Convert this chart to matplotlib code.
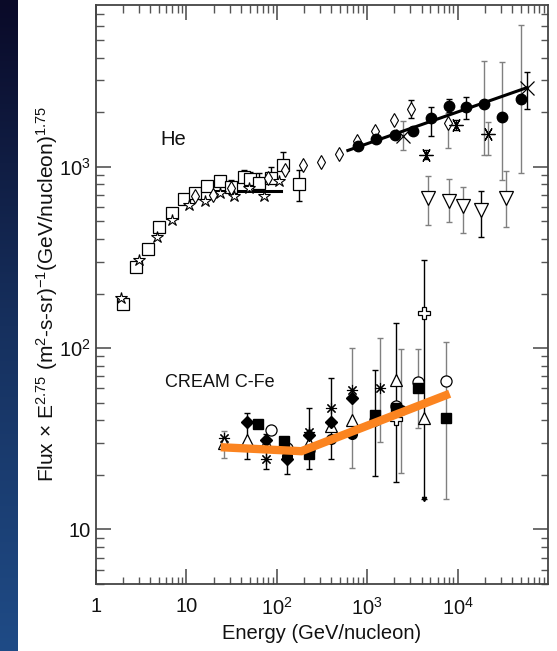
import numpy as np
import matplotlib
matplotlib.use('Agg')
import matplotlib.pyplot as plt
from matplotlib.ticker import LogLocator, FixedLocator, FixedFormatter, NullFormatter
from matplotlib.colors import LinearSegmentedColormap

plt.rcParams['font.family'] = ['Liberation Sans', 'DejaVu Sans']
plt.rcParams['mathtext.default'] = 'regular'

# ---------------- He data ----------------
he_sq_x = [2.0, 2.77, 3.72, 5.0, 6.86, 9.46, 12.5, 17.0, 23.4, 31.3, 43.2, 50, 63.8, 87, 117, 175]
he_sq_y = [176, 279, 353, 467, 556, 664, 717, 779, 830, 769, 877, 855, 813, 866, 1017, 806]

he_star_x = [1.87, 3.0, 4.68, 7.0, 10.6, 16.0, 23.4, 33.6, 49.4, 71.9, 106]
he_star_y = [188, 305, 410, 510, 618, 650, 717, 692, 763, 686, 830]

he_diam_x = [12.4, 19.7, 31, 80, 122, 195, 305, 488, 771, 1230, 1963, 3075, 7830]
he_diam_y = [686, 701, 760, 866, 962, 1026, 1061, 1179, 1379, 1566, 1815, 2080, 1754]

he_circ_x = [792, 1262, 2014, 3206, 5036, 7960, 12480, 19540, 31150, 49700]
he_circ_y = [1294, 1426, 1500, 1566, 1855, 2166, 2132, 2224, 1892, 2370]

he_x_x = [2490, 58300]
he_x_y = [1482, 2717]

he_ast_x = [4425, 9510, 21600]
he_ast_y = [1164, 1703, 1514]

he_tri_x = [4700, 8020, 11450, 18250, 34400]
he_tri_y = [673, 650, 604, 574, 673]

he_err_x = [117, 175, 43.2, 50, 63.8, 87, 23.4, 31.3, 3075, 7830, 5036, 7960, 12480,
            19540, 31150, 49700, 2490, 21600, 58300, 4425, 9510,
            4700, 8020, 11450, 18250, 34400]
he_err_lo = [1017, 644, 877, 855, 813, 866, 830, 769, 1860, 1268, 1480, 2000, 1835,
             1165, 848, 923, 1240, 1164, 2078, 1100, 1600,
             479, 493, 431, 410, 466]
he_err_hi = [1199, 963, 963, 935, 923, 991, 884, 848, 2335, 1975, 2149, 2360, 2438,
             3850, 3802, 6060, 1778, 1757, 3311, 1230, 1800,
             884, 855, 769, 738, 951]
he_err_black = [1, 1, 1, 1, 1, 1, 1, 1, 1, 0, 1, 1, 1,
                0, 0, 0, 0, 0, 1, 1, 1,
                0, 0, 0, 1, 0]

he_fit_lo_x = [20.6, 110]
he_fit_lo_y = [731, 731]
he_fit_hi_x = [611, 58900]
he_fit_hi_y = [1230, 2734]

# ---------------- CREAM C-Fe data ----------------
cr_ast_x = [25.9, 75, 228, 401, 685, 1400]
cr_ast_y = [32, 24.5, 34.4, 46.8, 58.5, 60.4]

cr_diam_x = [47, 75, 130, 228, 401, 685]
cr_diam_y = [39.0, 31.3, 24.3, 33, 39.2, 53.2]

cr_tri_x = [25.9, 47, 75, 228, 401, 685, 2100, 4210]
cr_tri_y = [30.1, 31.3, 30.1, 30.1, 37.4, 40, 67, 41.4]

cr_sq_x = [62.1, 119, 228, 1210, 2100, 3640, 7360]
cr_sq_y = [38.3, 30.9, 25.9, 43, 46.8, 60.4, 41.4]

cr_ocirc_x = [87, 130, 228, 1210, 2100, 3640, 7360]
cr_ocirc_y = [35.3, 28, 27.5, 40, 48, 64.8, 65.6]

cr_fcirc_x = [130, 401, 685, 2380]
cr_fcirc_y = [25.3, 31.5, 33.4, 45.5]

cr_plus_x = [2100, 4210]
cr_plus_y = [40.5, 156]

cr_err_x = [25.9, 47, 75, 130, 228, 401, 685, 1210, 1400, 2100, 2380, 3640, 4210, 7360]
cr_err_lo = [24.8, 24.5, 21.5, 20.3, 21.5, 24.5, 21.9, 19.7, 30.3, 18.3, 20.6, 36.4, 14.8, 14.8]
cr_err_hi = [34.8, 43.7, 33.8, 28.3, 46.8, 68, 100, 76, 113, 137, 99, 99, 305, 108]
cr_err_black = [0, 1, 1, 1, 1, 1, 0, 1, 0, 1, 0, 0, 1, 0]

cr_fit_x = [24, 187, 8170]
cr_fit_y = [28.4, 27.0, 56.0]

x_ticks = [1, 10, 100, 1000, 10000]
x_ticklabels = ['1', '10', '$10^2$', '$10^3$', '$10^4$']
y_ticks = [10, 100, 1000]
y_ticklabels = ['10', '$10^2$', '$10^3$']

# ---------------- figure ----------------
W, H = 557, 651
fig = plt.figure(figsize=(W / 100, H / 100), dpi=100)
fig.patch.set_facecolor('white')

# dark slide strip on the left
bg = fig.add_axes([0, 0, 18 / W, 1])
grad = np.linspace(0, 1, 256).reshape(-1, 1)
cmap = LinearSegmentedColormap.from_list('slide', ['#0a0a28', '#16305e', '#1f4b86'])
bg.imshow(grad, aspect='auto', cmap=cmap, extent=[0, 1, 1, 0])
bg.set_axis_off()

ax = fig.add_axes([96 / W, 1 - 584 / H, 452 / W, 579 / H])
ax.set_xscale('log')
ax.set_yscale('log')
ax.set_xlim(1, 1e5)
ax.set_ylim(5, 7800)

GREY = '#808080'


def draw_errs(xs, lo, hi, black):
    for x, l, h, b in zip(xs, lo, hi, black):
        c = 'black' if b else GREY
        ax.errorbar([x], [l], yerr=[[0], [h - l]], fmt='none', ecolor=c,
                    elinewidth=1.0, capsize=2.5, capthick=1.0, zorder=2)


draw_errs(he_err_x, he_err_lo, he_err_hi, he_err_black)
draw_errs(cr_err_x, cr_err_lo, cr_err_hi, cr_err_black)

# arrow on the long CREAM error bar
ax.plot([4210], [14.8], marker='v', ms=3, color='black', zorder=2)

mk = dict(linestyle='none', zorder=4)
# He
ax.plot(he_sq_x, he_sq_y, marker='s', ms=8.5, mfc='white', mec='black', mew=0.9, **mk)
ax.plot(he_star_x, he_star_y, marker='*', ms=9, mfc='white', mec='black', mew=0.8, **mk)
ax.plot(he_diam_x, he_diam_y, marker='d', ms=7, mfc='white', mec='black', mew=0.8, **mk)
ax.plot(he_circ_x, he_circ_y, marker='o', ms=7.5, mfc='black', mec='black', **mk)
ax.plot(he_x_x, he_x_y, marker='x', ms=10, mec='black', mew=0.9, **mk)
ax.plot(he_ast_x, he_ast_y, marker=(6, 2, 90), ms=10, mec='black', mew=0.9, **mk)
ax.plot(he_tri_x, he_tri_y, marker='v', ms=10, mfc='white', mec='black', mew=0.9, **mk)
ax.plot(he_fit_lo_x, he_fit_lo_y, color='black', lw=2.2, zorder=3)
ax.plot(he_fit_hi_x, he_fit_hi_y, color='black', lw=2.2, zorder=3)

# CREAM
ax.plot(cr_ast_x, cr_ast_y, marker=(8, 2, 0), ms=8, mec='black', mew=0.8, **mk)
ax.plot(cr_tri_x, cr_tri_y, marker='^', ms=8.5, mfc='white', mec='black', mew=0.9, **mk)
ax.plot(cr_ocirc_x, cr_ocirc_y, marker='o', ms=8, mfc='white', mec='black', mew=0.9, **mk)
ax.plot(cr_diam_x, cr_diam_y, marker='D', ms=6, mfc='black', mec='black', **mk)
ax.plot(cr_sq_x, cr_sq_y, marker='s', ms=7, mfc='black', mec='black', **mk)
ax.plot(cr_fcirc_x, cr_fcirc_y, marker='o', ms=7, mfc='black', mec='black', **mk)
ax.plot(cr_plus_x, cr_plus_y, marker='P', ms=9, mfc='white', mec='black', mew=0.9, **mk)
ax.plot(cr_fit_x, cr_fit_y, color='#fb8420', lw=6, solid_capstyle='butt',
        solid_joinstyle='miter', zorder=5)

# annotations
ax.text(5.1, 1410, 'He', fontsize=14.5, color='#111111', va='center', ha='left')
ax.text(5.8, 65, 'CREAM C-Fe', fontsize=13, color='#111111', va='center', ha='left')

# ticks
ax.xaxis.set_major_locator(FixedLocator(x_ticks))
ax.xaxis.set_major_formatter(FixedFormatter(x_ticklabels))
ax.yaxis.set_major_locator(FixedLocator(y_ticks))
ax.yaxis.set_major_formatter(FixedFormatter(y_ticklabels))
ax.xaxis.set_minor_locator(LogLocator(base=10, subs=np.arange(2, 10), numticks=20))
ax.yaxis.set_minor_locator(LogLocator(base=10, subs=np.arange(2, 10), numticks=20))
ax.xaxis.set_minor_formatter(NullFormatter())
ax.yaxis.set_minor_formatter(NullFormatter())
ax.tick_params(which='both', direction='in', top=True, right=True, colors='#555555')
ax.tick_params(which='major', length=10.8, width=1.2, labelsize=14.5, labelcolor='#111111')
ax.tick_params(axis='x', which='major', pad=9)
ax.tick_params(axis='y', which='major', pad=4)
ax.tick_params(which='minor', length=5.4, width=1.0)
for s in ax.spines.values():
    s.set_color('#444444')
    s.set_linewidth(1.3)

ax.set_xlabel('Energy (GeV/nucleon)', fontsize=14.5, color='#111111', labelpad=4)
ax.set_ylabel(r'Flux $\times$ E$^{2.75}$ (m$^2$-s-sr)$^{-1}$(GeV/nucleon)$^{1.75}$',
              fontsize=15, color='#111111', labelpad=-1)

fig.savefig('out.png', dpi=100, facecolor='white')
